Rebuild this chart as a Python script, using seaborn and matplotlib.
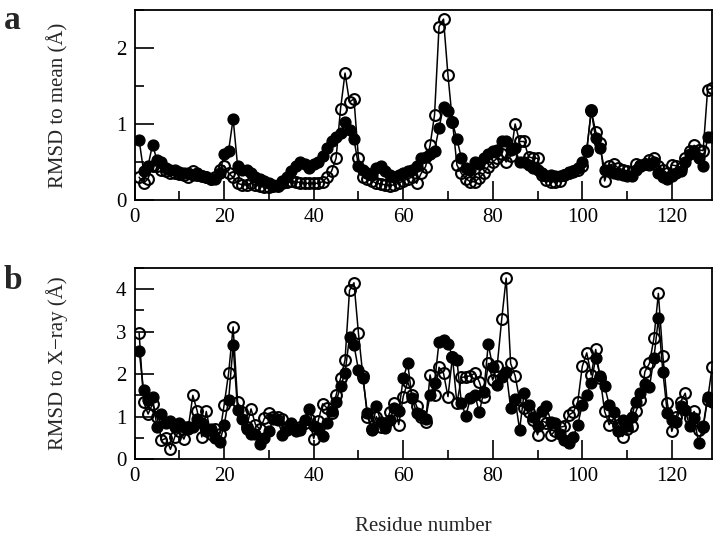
#!/usr/bin/env python3

import numpy as np
import pandas as pd
import seaborn as sns
import matplotlib
matplotlib.use('Agg')
import matplotlib.pyplot as plt
from matplotlib.ticker import MultipleLocator

# residue numbers of the protein (1..129)
residues = list(range(1, 130))

# panel a: RMSD to mean
a_filled = [
    0.79, 0.38, 0.45, 0.73, 0.52, 0.50, 0.42, 0.40, 0.40, 0.37,
    0.35, 0.36, 0.33, 0.36, 0.32, 0.30, 0.28, 0.27, 0.35, 0.60,
    0.65, 1.07, 0.45, 0.40, 0.40, 0.36, 0.30, 0.27, 0.25, 0.22,
    0.20, 0.20, 0.25, 0.30, 0.38, 0.45, 0.50, 0.48, 0.42, 0.47,
    0.50, 0.58, 0.68, 0.78, 0.83, 0.88, 1.02, 0.92, 0.80, 0.45,
    0.40, 0.35, 0.33, 0.42, 0.45, 0.38, 0.33, 0.30, 0.33, 0.35,
    0.38, 0.40, 0.45, 0.55, 0.57, 0.60, 0.65, 0.95, 1.23, 1.17,
    1.02, 0.80, 0.55, 0.42, 0.40, 0.50, 0.48, 0.55, 0.60, 0.64,
    0.66, 0.78, 0.77, 0.66, 0.68, 0.50, 0.50, 0.46, 0.42, 0.39,
    0.35, 0.31, 0.33, 0.31, 0.31, 0.33, 0.37, 0.37, 0.42, 0.50,
    0.66, 1.17, 0.81, 0.68, 0.40, 0.39, 0.35, 0.34, 0.33, 0.31,
    0.31, 0.40, 0.46, 0.48, 0.46, 0.50, 0.35, 0.30, 0.28, 0.32,
    0.36, 0.38, 0.50, 0.60, 0.64, 0.55, 0.45, 0.83, 0.83,
]
a_open = [
    0.30, 0.22, 0.28, 0.45, 0.45, 0.40, 0.38, 0.35, 0.35, 0.34,
    0.33, 0.30, 0.38, 0.33, 0.32, 0.30, 0.28, 0.30, 0.40, 0.45,
    0.35, 0.30, 0.22, 0.20, 0.20, 0.22, 0.20, 0.18, 0.17, 0.17,
    0.18, 0.18, 0.22, 0.24, 0.25, 0.24, 0.23, 0.22, 0.22, 0.22,
    0.22, 0.24, 0.30, 0.38, 0.55, 1.20, 1.67, 1.29, 1.33, 0.55,
    0.30, 0.27, 0.25, 0.22, 0.21, 0.20, 0.19, 0.20, 0.22, 0.25,
    0.28, 0.30, 0.22, 0.35, 0.44, 0.72, 1.12, 2.28, 2.38, 1.64,
    1.03, 0.46, 0.35, 0.28, 0.24, 0.24, 0.29, 0.35, 0.44, 0.50,
    0.55, 0.60, 0.50, 0.58, 1.00, 0.77, 0.77, 0.57, 0.55, 0.55,
    0.33, 0.26, 0.24, 0.24, 0.25, 0.33, 0.35, 0.38, 0.40, 0.45,
    0.65, 1.18, 0.90, 0.75, 0.25, 0.45, 0.48, 0.42, 0.40, 0.38,
    0.37, 0.47, 0.45, 0.48, 0.52, 0.55, 0.45, 0.40, 0.35, 0.46,
    0.45, 0.42, 0.55, 0.64, 0.72, 0.66, 0.65, 1.45, 1.47,
]

# panel b: RMSD to X-ray
b_filled = [
    2.55, 1.62, 1.40, 1.45, 0.75, 1.05, 0.85, 0.90, 0.75, 0.85,
    0.75, 0.70, 0.75, 0.95, 0.85, 0.65, 0.70, 0.50, 0.40, 0.80,
    1.40, 2.68, 1.15, 0.95, 0.70, 0.60, 0.60, 0.35, 0.50, 0.65,
    0.95, 0.92, 0.57, 0.69, 0.85, 0.65, 0.69, 0.92, 1.18, 0.77,
    0.73, 0.55, 0.85, 1.12, 1.35, 1.71, 2.02, 2.88, 2.68, 2.10,
    1.90, 1.08, 0.69, 1.24, 0.88, 0.73, 0.92, 1.20, 1.12, 1.90,
    2.25, 1.43, 1.08, 1.04, 0.95, 1.50, 1.80, 2.76, 2.80, 2.72,
    2.41, 2.33, 1.31, 1.02, 1.43, 1.51, 1.10, 1.59, 2.71, 2.16,
    1.75, 1.94, 2.06, 1.20, 1.41, 0.69, 1.55, 1.28, 1.00, 0.77,
    1.12, 1.24, 0.88, 0.85, 0.60, 0.45, 0.38, 0.53, 0.81, 1.28,
    1.51, 1.78, 2.39, 1.96, 1.71, 1.28, 1.10, 0.65, 0.92, 0.77,
    1.00, 1.35, 1.55, 1.77, 1.69, 2.37, 3.31, 2.06, 1.08, 0.92,
    0.88, 1.24, 1.16, 0.77, 0.96, 0.38, 0.77, 1.47, 1.34,
]
b_open = [
    2.97, 1.35, 1.06, 1.30, 1.00, 0.44, 0.49, 0.23, 0.53, 0.65,
    0.47, 0.75, 1.50, 1.12, 0.52, 1.12, 0.60, 0.70, 0.59, 1.28,
    2.03, 3.11, 1.34, 1.10, 0.75, 1.18, 0.81, 0.70, 0.96, 1.08,
    1.00, 1.00, 0.95, 0.75, 0.80, 0.70, 0.75, 0.85, 0.95, 0.48,
    0.90, 1.30, 1.20, 1.08, 1.50, 1.90, 2.33, 3.97, 4.15, 2.96,
    1.95, 1.00, 0.70, 1.00, 0.75, 0.80, 1.10, 1.31, 0.81, 1.47,
    1.82, 1.51, 1.24, 1.00, 0.88, 1.98, 1.51, 2.16, 2.02, 1.47,
    2.40, 1.31, 1.92, 1.94, 1.96, 2.02, 1.82, 1.47, 2.25, 1.86,
    2.20, 3.29, 4.26, 2.25, 1.96, 1.39, 1.20, 1.10, 0.92, 0.57,
    0.90, 0.85, 0.56, 0.67, 0.75, 0.77, 1.04, 1.10, 1.35, 2.18,
    2.50, 1.98, 2.58, 1.90, 1.12, 0.81, 0.96, 0.80, 0.53, 0.70,
    0.77, 1.12, 1.38, 2.06, 2.25, 2.84, 3.90, 2.43, 1.33, 0.65,
    1.00, 1.35, 1.55, 0.96, 1.12, 0.69, 0.75, 1.40, 2.16,
]

sns.set_style('ticks')
plt.rcParams['font.family'] = ['Liberation Serif', 'DejaVu Serif']


def make_frame(filled, opened):
    df_f = pd.DataFrame({'residue': residues, 'rmsd': filled, 'set': 'filled'})
    df_o = pd.DataFrame({'residue': residues, 'rmsd': opened, 'set': 'open'})
    return pd.concat([df_f, df_o], ignore_index=True)


def draw_panel(ax, df, ymax, ylabel):
    sns.lineplot(x='residue', y='rmsd', data=df[df['set'] == 'open'], ax=ax,
                 color='black', lw=1.1, marker='o', ms=7.8,
                 markerfacecolor='none', markeredgecolor='black', mew=1.5,
                 errorbar=None, sort=False)
    sns.lineplot(x='residue', y='rmsd', data=df[df['set'] == 'filled'], ax=ax,
                 color='black', lw=1.1, marker='o', ms=7.8,
                 markerfacecolor='black', markeredgecolor='black', mew=1.0,
                 errorbar=None, sort=False)
    ax.set_xlim(0, 129)
    ax.set_ylim(0, ymax)
    ax.xaxis.set_major_locator(MultipleLocator(20))
    ax.xaxis.set_minor_locator(MultipleLocator(10))
    ax.yaxis.set_major_locator(MultipleLocator(1))
    ax.yaxis.set_minor_locator(MultipleLocator(0.5))
    ax.tick_params(which='both', direction='in', top=False, right=False,
                   width=1.2, colors='black', labelsize=15, pad=6)
    ax.tick_params(which='major', length=13.5)
    ax.tick_params(which='minor', length=6.5)
    for s in ax.spines.values():
        s.set_linewidth(1.3)
        s.set_color('black')
    ax.set_xlabel('')
    ax.set_ylabel(ylabel, fontsize=15)
    ax.yaxis.set_label_coords(-0.115, 0.5)


fig = plt.figure(figsize=(7.2, 5.46), dpi=100)
ax_a = fig.add_axes([0.187, 0.6337, 0.802, 0.348])
ax_b = fig.add_axes([0.187, 0.1593, 0.802, 0.350])

draw_panel(ax_a, make_frame(a_filled, a_open), 2.5, 'RMSD to mean (Å)')
draw_panel(ax_b, make_frame(b_filled, b_open), 4.5, 'RMSD to X\u2212ray (Å)')

fig.text(0.005, 0.99, 'a', fontsize=24, fontweight='bold', va='top')
fig.text(0.005, 0.515, 'b', fontsize=24, fontweight='bold', va='top')
fig.text(0.588, 0.035, 'Residue number', fontsize=15, ha='center', va='center')

fig.savefig('out.png', dpi=100)
